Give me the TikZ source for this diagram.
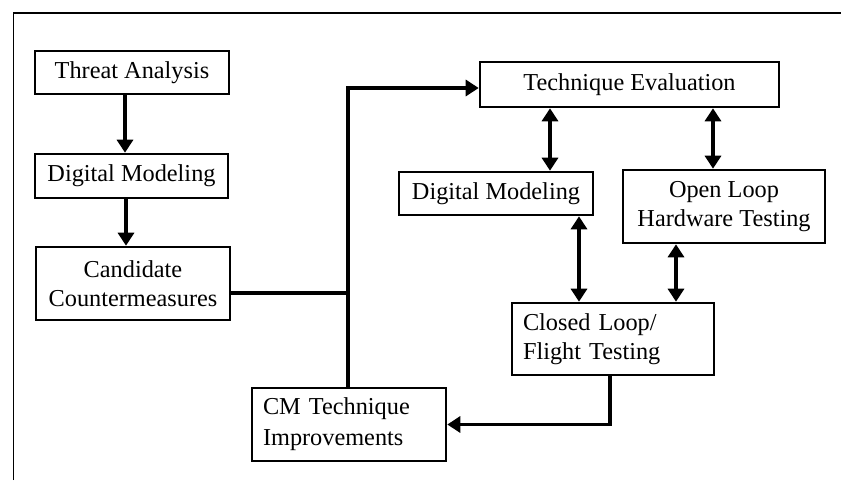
\documentclass[tikz,border=0pt]{standalone}
\usepackage{fontspec}
\setmainfont{Liberation Serif}
\usetikzlibrary{arrows.meta}
\begin{document}
\begin{tikzpicture}[x=1pt,y=-1pt,
  box/.style={draw,line width=2.6pt,inner sep=0pt,font=\fontsize{24.3}{29}\selectfont},
  conn/.style={line width=3.6pt},
  arr/.style={conn,-{Triangle[width=16pt,length=13pt]}},
  darr/.style={conn,{Triangle[width=16pt,length=13pt]}-{Triangle[width=16pt,length=13pt]}}]
\useasboundingbox (0,0) rectangle (841,480);
% frame
\draw[line width=1.6pt] (13.5,480) -- (13.5,13) -- (841,13);
% nodes
\node[box,minimum width=194pt,minimum height=43pt] (ta) at (132,72.5) {Threat Analysis};
\node[box,minimum width=193pt,minimum height=44pt] (dml) at (131.5,176) {Digital Modeling};
\node[box,minimum width=194pt,minimum height=73pt,align=center] (cc) at (133,283.5) {Candidate\\Countermeasures};
\node[box,minimum width=299pt,minimum height=45pt] (te) at (629.5,84.5) {Technique Evaluation};
\node[box,minimum width=194pt,minimum height=43pt] (dmr) at (496,193.5) {Digital Modeling};
\node[box,minimum width=202pt,minimum height=73pt,align=center] (ol) at (724,206.5) {Open Loop\\Hardware Testing};
\node[box,minimum width=202pt,minimum height=72pt,text width=180pt,align=left] (cl) at (613,339) {Closed Loop/\\Flight Testing};
\node[box,minimum width=194pt,minimum height=73pt,text width=172pt,align=left,font=\fontsize{24.3}{31}\selectfont] (cm) at (349,424.5) {CM Technique\\Improvements};
% connectors
\draw[arr] ([xshift=-7pt]ta.south) -- ([xshift=-7pt]ta.south |- dml.north);
\draw[arr] ([xshift=-5.5pt]dml.south) -- ([xshift=-5.5pt]dml.south |- cc.north);
\coordinate (j) at (348,293);
\draw[conn] (cc.east |- j) -- (j);
\draw[arr] (cm.north -| j) -- (j |- 0,88) -- (te.west |- 0,88);
\draw[darr] (te.south -| 550,0) -- (dmr.north -| 550,0);
\draw[darr] (te.south -| 713,0) -- (ol.north -| 713,0);
\draw[darr] (dmr.south -| 579,0) -- (cl.north -| 579,0);
\draw[darr] (ol.south -| 676,0) -- (cl.north -| 676,0);
\draw[arr] (cl.south -| 610,0) |- (cm.east);
\end{tikzpicture}
\end{document}
